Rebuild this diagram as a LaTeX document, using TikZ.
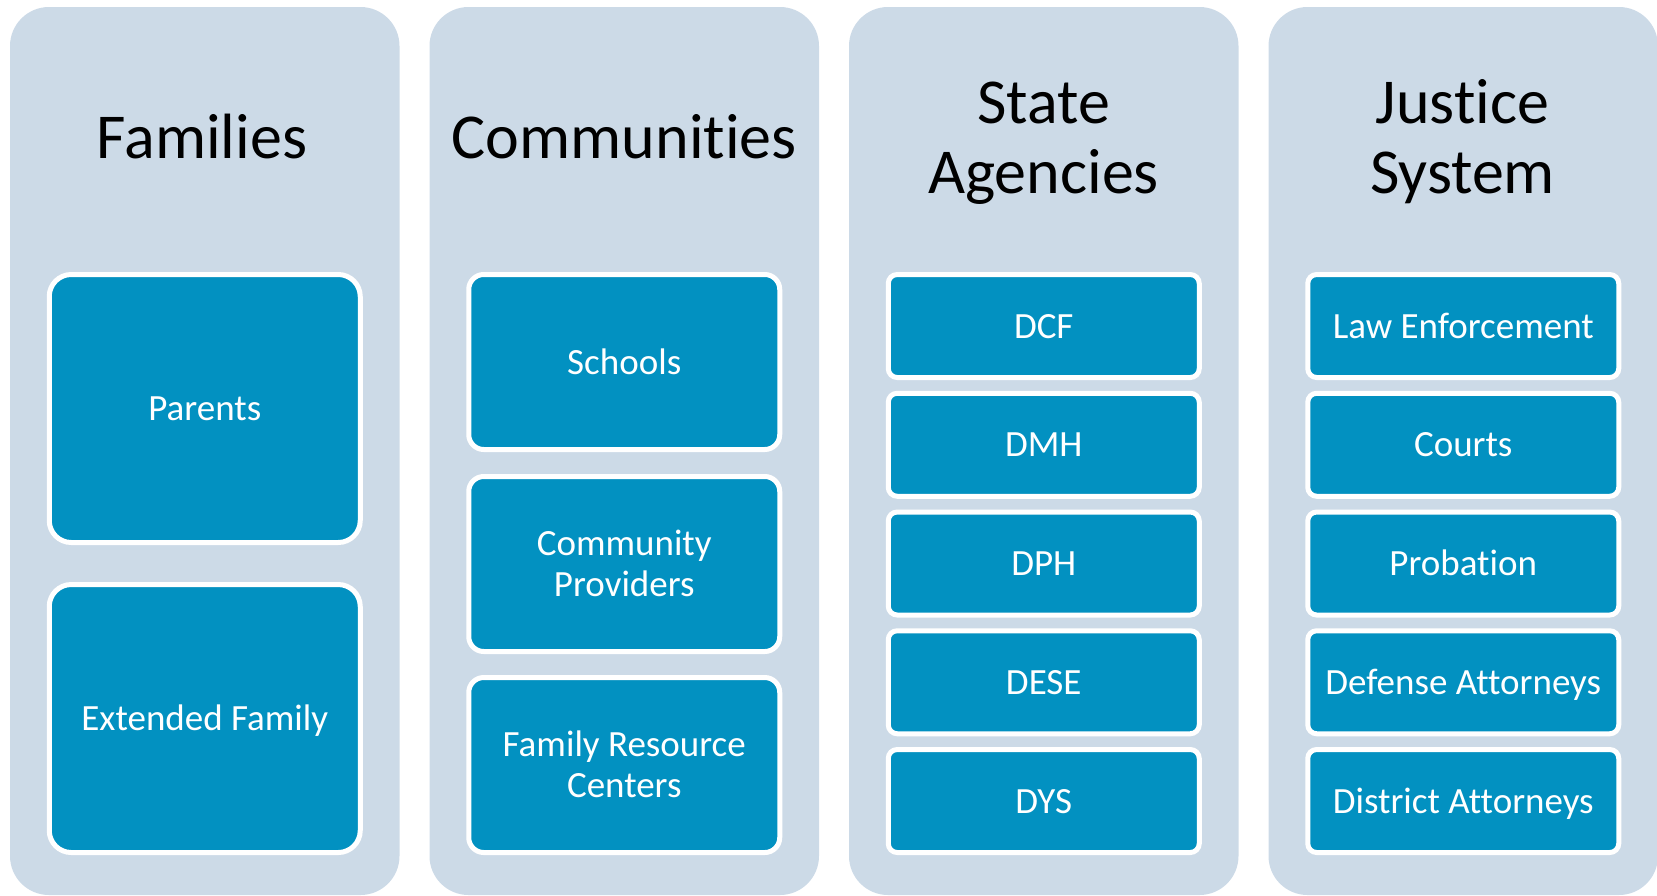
\documentclass[tikz,border=0pt]{standalone}
\usepackage{fontspec}
\setmainfont[Ligatures={NoCommon}]{Carlito}
\definecolor{colbg}{RGB}{204,218,231}
\definecolor{boxbg}{RGB}{2,145,193}
\begin{document}
\begin{tikzpicture}[x=1pt,y=-1pt,
  column/.style={fill=colbg, rounded corners=39pt, inner sep=0pt, outer sep=0pt,
    minimum width=389.5pt, minimum height=888pt, anchor=north west},
  title/.style={anchor=base, align=center, inner sep=0pt, text=black,
    font=\fontsize{64}{70}\selectfont},
  item/.style={draw=white, line width=5pt, fill=boxbg, text=white, inner sep=0pt,
    minimum width=311pt, align=center, font=\fontsize{37}{41}\selectfont,
    text height=24pt, text depth=0pt},
  big/.style={item, minimum height=268pt, rounded corners=22pt},
  med/.style={item, minimum height=175pt, rounded corners=15pt},
  small/.style={item, minimum height=103pt, rounded corners=9pt},
  twoline/.style={text height=65pt, text depth=0pt}]
\useasboundingbox (0,0) rectangle (1657,895);

% columns
\node[column] (c1) at (10,7) {};
\node[column] (c2) at (429.5,7) {};
\node[column] (c3) at (849,7) {};
\node[column] (c4) at (1268.5,7) {};

% titles
\node[title] (t1) at (202,158) {Families};
\node[title] (t2) at (624.25,158) {Communities};
\node[title] (t3) at (1043.5,193) {State\\Agencies};
\node[title] (t4) at (1462.5,193) {Justice\\System};

% Families
\node[big] (parents) at (204.75,408.5) {Parents};
\node[big] (extfam) at (204.75,718.5) {Extended Family};

% Communities
\node[med] (schools) at (624.25,362) {Schools};
\node[med, twoline] (commprov) at (624.25,564) {Community\\Providers};
\node[med, twoline] (frc) at (624.25,765) {Family Resource\\Centers};

% State Agencies
\node[small] (dcf) at (1043.75,326) {DCF};
\node[small] (dmh) at (1043.75,444.75) {DMH};
\node[small] (dph) at (1043.75,563.5) {DPH};
\node[small] (dese) at (1043.75,682.25) {DESE};
\node[small] (dys) at (1043.75,801) {DYS};

% Justice System
\node[small] (law) at (1463.25,326) {Law Enforcement};
\node[small] (courts) at (1463.25,444.75) {Courts};
\node[small] (prob) at (1463.25,563.5) {Probation};
\node[small] (defense) at (1463.25,682.25) {Defense Attorneys};
\node[small] (da) at (1463.25,801) {District Attorneys};
\end{tikzpicture}
\end{document}
